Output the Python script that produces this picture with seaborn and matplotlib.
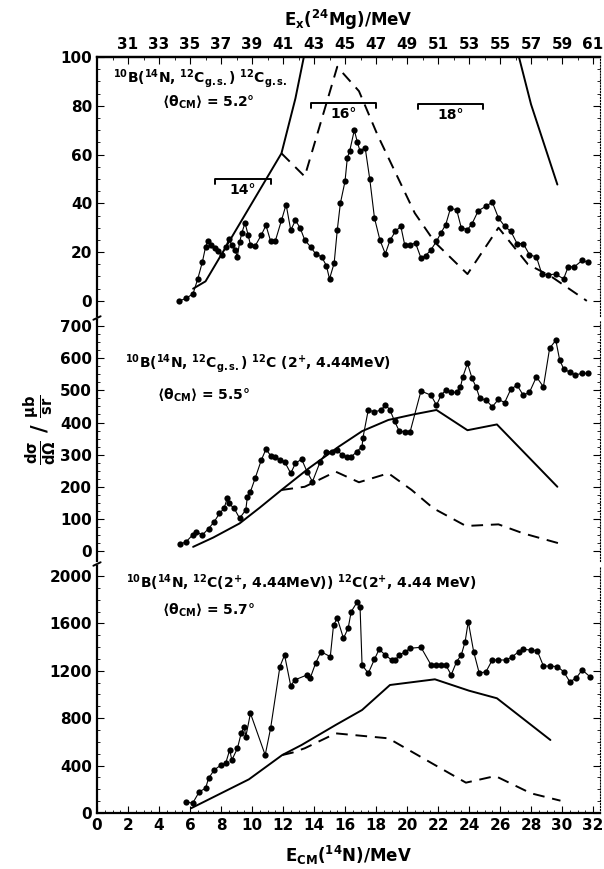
import numpy as np
import pandas as pd
import matplotlib
matplotlib.use("Agg")
import matplotlib.pyplot as plt
from matplotlib.lines import Line2D
import seaborn as sns

# --- Panel 1: 10B(14N,12C g.s.)12C g.s. ---
e_gs = [5.3, 5.75, 6.2, 6.5, 6.8, 7.0, 7.15, 7.35, 7.6, 7.8, 8.05, 8.3, 8.5, 8.7, 8.9, 9.05,
        9.2, 9.35, 9.55, 9.75, 9.9, 10.2, 10.6, 10.9, 11.2, 11.5, 11.9, 12.2, 12.5, 12.8, 13.1,
        13.4, 13.8, 14.1, 14.5, 14.8, 15.0, 15.3, 15.5, 15.7, 16.0, 16.15, 16.3, 16.6, 16.8,
        16.97, 17.3, 17.6, 17.9, 18.25, 18.6, 18.9, 19.25, 19.6, 19.85, 20.2, 20.55, 20.9,
        21.2, 21.55, 21.9, 22.2, 22.5, 22.8, 23.2, 23.5, 23.9, 24.2, 24.6, 25.1, 25.5, 25.9,
        26.3, 26.7, 27.1, 27.5, 27.9, 28.35, 28.7, 29.1, 29.6, 30.1, 30.4, 30.8, 31.3, 31.7]
s_gs = [0, 1, 3, 9, 16, 22, 24.5, 23, 21.5, 20.5, 19, 22, 25.5, 23, 21, 18,
        24, 28, 32, 27, 23, 22.5, 27, 31, 24.5, 24.5, 33, 39.5, 29, 33, 30,
        25, 22, 19.3, 18, 14.4, 9, 15.5, 29, 40, 49, 58.7, 61.4, 70, 65,
        61.4, 62.8, 49.8, 34, 25, 19.3, 24.8, 28.5, 30.6, 23, 23, 23.7, 17.6,
        18.5, 21, 24.4, 28, 31.3, 37.9, 37.4, 30, 29.2, 31.7, 37, 38.8, 40.5, 34,
        30.6, 28.5, 23.5, 23.5, 18.9, 18, 11, 10.7, 11, 9, 14, 14, 16.6, 15.8]
e_gs_full = [6.2, 7.0, 11.9, 12.8, 13.6, 26.9, 28.0, 29.7]
s_gs_full = [5, 8, 60.5, 83, 108, 108, 80.6, 47.7]
e_gs_dash = [11.9, 13.4, 15.5, 16.9, 18.1, 20.5, 21.8, 23.9, 25.9, 27.8, 29.3, 31.6]
s_gs_dash = [60.5, 51, 96, 86, 68, 36, 24, 11, 30, 15, 10, 0]
bracket_lo = [7.6, 13.8, 20.7]
bracket_hi = [11.2, 18.0, 24.9]
bracket_y = [49.8, 81, 80.6]
bracket_txt = ["14°", "16°", "18°"]

# --- Panel 2: 10B(14N,12C g.s.)12C(2+, 4.44 MeV) ---
e_21 = [5.36, 5.75, 6.17, 6.4, 6.8, 7.2, 7.56, 7.9, 8.2, 8.4, 8.5, 8.85, 9.2, 9.6, 9.7, 9.9,
        10.2, 10.6, 10.9, 11.2, 11.5, 11.8, 12.1, 12.5, 12.8, 13.2, 13.55, 13.9, 14.4, 14.8,
        15.15, 15.5, 15.8, 16.1, 16.4, 16.75, 17.1, 17.15, 17.5, 17.9, 18.35, 18.6, 18.9, 19.2,
        19.5, 19.85, 20.2, 20.9, 21.55, 21.9, 22.2, 22.5, 22.85, 23.2, 23.45, 23.6, 23.9,
        24.2, 24.45, 24.7, 25.1, 25.5, 25.9, 26.3, 26.7, 27.1, 27.5, 27.9, 28.35, 28.8, 29.2,
        29.6, 29.85, 30.1, 30.5, 30.85, 31.3, 31.7]
s_21 = [21, 29, 50, 60, 50, 70, 91, 117, 133, 164, 148, 133, 102, 128, 169, 185,
        226, 283, 317, 297, 293, 283, 278, 242, 273, 286, 247, 216, 278, 309,
        309, 314, 299, 293, 293, 309, 325, 351, 439, 433, 439, 456, 439, 404,
        373, 371, 371, 498, 485, 454, 485, 501, 494, 494, 511, 542, 584,
        537, 511, 475, 470, 449, 472, 462, 504, 516, 485, 494, 542, 511, 631,
        656, 594, 568, 556, 548, 553, 553]
e_21_full = [6.2, 7.5, 9.2, 10.5, 11.9, 13.65, 15.6, 17.1, 18.8, 20.4, 21.9, 23.9, 25.8, 29.7]
s_21_full = [13, 42, 86, 135, 190, 257, 325, 373, 408, 425, 439, 376, 394, 200]
e_21_dash = [11.9, 13.4, 15.4, 16.9, 18.8, 20.3, 21.7, 23.8, 25.9, 27.5, 29.8]
s_21_dash = [190, 200, 247, 214, 242, 190, 133, 78, 83, 55, 24]

# --- Panel 3: 10B(14N,12C(2+))12C(2+) ---
e_22 = [5.75, 6.17, 6.6, 7.0, 7.2, 7.56, 8.0, 8.3, 8.56, 8.7, 9.06, 9.3, 9.5, 9.6, 9.9,
        10.85, 11.2, 11.8, 12.1, 12.5, 12.75, 13.55, 13.75, 14.1, 14.45, 15.05, 15.26, 15.5,
        15.9, 16.2, 16.4, 16.8, 16.97, 17.1, 17.5, 17.9, 18.2, 18.6, 19.0, 19.25, 19.5, 19.9,
        20.2, 20.9, 21.55, 21.9, 22.2, 22.5, 22.85, 23.2, 23.5, 23.75, 23.95, 24.3, 24.66,
        25.1, 25.5, 25.9, 26.4, 26.8, 27.2, 27.5, 27.97, 28.4, 28.8, 29.25, 29.7, 30.1, 30.5,
        30.9, 31.3, 31.8]
s_22 = [95, 82, 180, 208, 293, 363, 405, 419, 532, 447, 546, 672, 728, 644, 841,
        489, 715, 1235, 1333, 1072, 1122, 1165, 1136, 1263, 1361, 1319, 1586, 1643,
        1474, 1558, 1699, 1783, 1741, 1249, 1179, 1297, 1381, 1333, 1291, 1291, 1333, 1361,
        1390, 1398, 1249, 1249, 1249, 1249, 1165, 1277, 1333, 1446, 1615, 1361, 1179,
        1193, 1291, 1291, 1291, 1319, 1361, 1381, 1375, 1370, 1240, 1240, 1235, 1193, 1108,
        1136, 1207, 1150]
e_22_full = [6.07, 9.8, 11.95, 13.2, 15.4, 17.1, 18.9, 21.8, 24.0, 25.8, 29.25]
s_22_full = [40, 284, 489, 574, 743, 869, 1080, 1128, 1032, 968, 616]
e_22_dash = [11.95, 12.6, 13.4, 15.4, 18.8, 21.8, 23.8, 25.7, 28.0, 29.9]
s_22_dash = [489, 509, 546, 672, 630, 405, 256, 312, 166, 104]

W, H = 604, 869
sns.set_style("ticks")
plt.rcParams["font.family"] = ["DejaVu Sans"]
plt.rcParams["font.weight"] = "bold"
plt.rcParams["mathtext.default"] = "bf"
plt.rcParams["axes.linewidth"] = 1.6
for key in ("text.color", "axes.labelcolor", "xtick.color", "ytick.color", "axes.edgecolor"):
    plt.rcParams[key] = "black"

fig = plt.figure(figsize=(W / 100, H / 100), dpi=100)
left, right = 97 / W, 600 / W

def make_ax(top_px, bot_px):
    return fig.add_axes([left, 1 - bot_px / H, right - left, (bot_px - top_px) / H])

ax1 = make_ax(57, 316)
ax2 = make_ax(320, 561)
ax3 = make_ax(566, 813)

panels = [
    (ax1, e_gs, s_gs, e_gs_full, s_gs_full, e_gs_dash, s_gs_dash, (-6.2, 100), 20, 5),
    (ax2, e_21, s_21, e_21_full, s_21_full, e_21_dash, s_21_dash, (-31, 719), 100, 25),
    (ax3, e_22, s_22, e_22_full, s_22_full, e_22_dash, s_22_dash, (0, 2084), 400, 100),
]

XMAX = 32.45
for ax, ex, sx, ef, sf, ed, sd, ylim, major, minor in panels:
    sns.lineplot(x=ex, y=sx, ax=ax, color="black", lw=0.8, marker="o", markersize=4.5,
                 markeredgewidth=0, estimator=None, sort=False)
    sns.lineplot(x=ef, y=sf, ax=ax, color="black", lw=1.4, estimator=None, sort=False)
    sns.lineplot(x=ed, y=sd, ax=ax, color="black", lw=1.4, estimator=None, sort=False,
                 linestyle=(0, (6, 4)))
    ax.set_xlim(0, XMAX)
    ax.set_ylim(*ylim)
    ax.set_yticks(np.arange(0, ylim[1] + 1, major))
    ax.set_yticks(np.arange(0, ylim[1] + 1, minor), minor=True)
    ax.tick_params(axis="y", which="both", direction="in", labelsize=11, right=True)
    ax.tick_params(axis="y", which="major", length=5)
    ax.tick_params(axis="y", which="minor", length=2.5)
    ax.spines["right"].set_linestyle(":")
    ax.spines["right"].set_linewidth(0.8)
    ax.spines["top"].set_visible(False)
    ax.spines["bottom"].set_visible(False)
    ax.set_xlabel("")
    ax.set_ylabel("")
    for lab in ax.get_yticklabels():
        lab.set_fontweight("bold")

for ax in (ax1, ax2):
    ax.tick_params(axis="x", which="both", bottom=False, labelbottom=False)

ax1.spines["top"].set_visible(True)
ax3.spines["bottom"].set_visible(True)
ax3.set_xticks(np.arange(0, 33, 2))
ax3.set_xticks(np.arange(0, 32.5, 0.5), minor=True)
ax3.tick_params(axis="x", which="both", direction="in", labelsize=11)
ax3.tick_params(axis="x", which="major", length=5)
ax3.tick_params(axis="x", which="minor", length=2.5)
ax3.set_xlabel(r"E$_{CM}$($^{14}$N)/MeV", fontsize=12, fontweight="bold", labelpad=8)

# top axis: excitation energy of 24Mg
sec = ax1.secondary_xaxis("top", functions=(lambda e: e + 29, lambda x: x - 29))
sec.set_xticks(np.arange(31, 62, 2))
sec.set_xticks(np.arange(29, 62, 1), minor=True)
sec.tick_params(axis="x", which="both", direction="in", labelsize=11)
sec.tick_params(axis="x", which="major", length=5)
sec.tick_params(axis="x", which="minor", length=2.5)
sec.set_xlabel(r"E$_x$($^{24}$Mg)/MeV", fontsize=12, fontweight="bold", labelpad=8)

# angular brackets in the top panel
for lo, hi, yb, txt in zip(bracket_lo, bracket_hi, bracket_y, bracket_txt):
    ax1.plot([lo, lo, hi, hi], [yb - 2, yb, yb, yb - 2], color="black", lw=1.4)
    ax1.text((lo + hi) / 2, yb - 1.5, txt, ha="center", va="top", fontsize=10, fontweight="bold")

# reaction labels
ax1.text(1.0, 91, r"$^{10}$B($^{14}$N, $^{12}$C$_{g.s.}$) $^{12}$C$_{g.s.}$",
         fontsize=10, va="center")
ax1.text(4.2, 81.5, r"$\langle\theta_{CM}\rangle$ = 5.2°", fontsize=10, va="center")
ax2.text(1.8, 585, r"$^{10}$B($^{14}$N, $^{12}$C$_{g.s.}$) $^{12}$C (2$^{+}$, 4.44MeV)",
         fontsize=10, va="center")
ax2.text(3.85, 485, r"$\langle\theta_{CM}\rangle$ = 5.5°", fontsize=10, va="center")
ax3.text(1.86, 1941, r"$^{10}$B($^{14}$N, $^{12}$C(2$^{+}$, 4.44MeV)) $^{12}$C(2$^{+}$, 4.44 MeV)",
         fontsize=10, va="center")
ax3.text(4.2, 1713, r"$\langle\theta_{CM}\rangle$ = 5.7°", fontsize=10, va="center")

# axis break marks on the left spine
for ypx in (318, 564):
    yf = 1 - ypx / H
    fig.add_artist(Line2D([left - 0.006, left + 0.006], [yf - 0.002, yf + 0.002],
                          color="black", lw=1.4, transform=fig.transFigure))

fig.text(40 / W, 1 - 430 / H,
         r"$\frac{d\sigma}{d\Omega}\ /\ \frac{\mu b}{sr}$", rotation=90,
         fontsize=15, ha="center", va="center")

fig.savefig("out.png", dpi=100)
